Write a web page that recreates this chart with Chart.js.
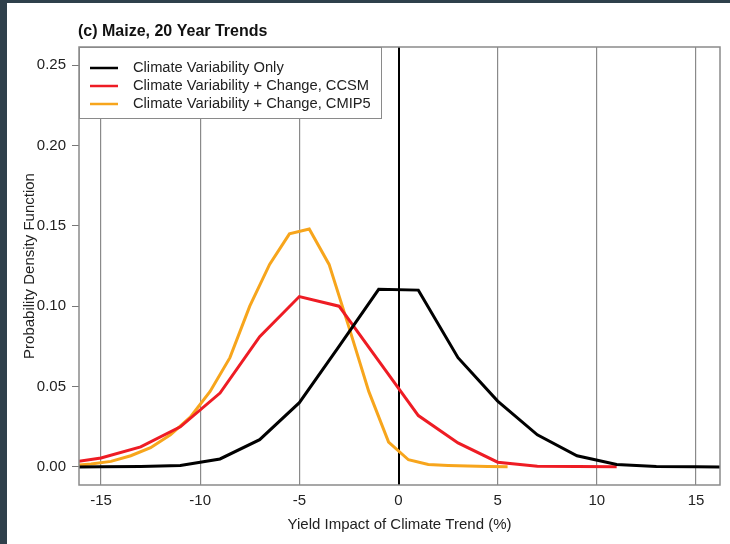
<!DOCTYPE html>
<html><head><meta charset="utf-8">
<script src="https://cdn.jsdelivr.net/npm/chart.js@4"></script>
<style>
html,body{margin:0;padding:0;background:#2f404b;width:730px;height:544px;overflow:hidden}
#wrap{position:absolute;left:7px;top:3px;width:723px;height:541px;background:#fff}
</style></head>
<body>
<div id="wrap"><canvas id="c" width="723" height="541"></canvas></div>
<script>
const blackX=[-17,-15,-13,-11,-9,-7,-5,-3,-1,1,3,5,7,9,11,13,15,17];
const blackY=[0,0.0001,0.0003,0.001,0.005,0.017,0.040,0.075,0.1105,0.110,0.068,0.041,0.020,0.007,0.0015,0.0003,0.0001,0];
const ccsmX=[-17,-15,-13,-11,-9,-7,-5,-3,-1,1,3,5,7,9,11];
const ccsmY=[0.002,0.0056,0.0125,0.025,0.046,0.081,0.106,0.100,0.066,0.032,0.015,0.003,0.0005,0.0003,0.0002];
const cmipX=[-16.5,-15.5,-14.5,-13.5,-12.5,-11.5,-10.5,-9.5,-8.5,-7.5,-6.5,-5.5,-4.5,-3.5,-2.5,-1.5,-0.5,0.5,1.5,2.5,3.5,4.5,5.5];
const cmipY=[0.0008,0.0018,0.0035,0.007,0.012,0.020,0.031,0.047,0.068,0.100,0.126,0.145,0.148,0.126,0.087,0.047,0.0155,0.0045,0.0015,0.001,0.0006,0.0003,0.0002];
const xTicks=[-15,-10,-5,0,5,10,15];
const yTicks=[0,0.05,0.10,0.15,0.20,0.25];
const labels=['Climate Variability Only','Climate Variability + Change, CCSM','Climate Variability + Change, CMIP5'];
const colors=['#000000','#ee1c24','#f7a51c'];

const FF='"Liberation Sans", Arial, sans-serif';
Chart.defaults.font.family=FF;
const pts=(xs,ys)=>xs.map((x,i)=>({x,y:ys[i]}));

// legend box, plot frame, title
const deco={id:'deco',
  beforeDatasetsDraw(c){
    const ctx=c.ctx;ctx.save();
    ctx.fillStyle='#fff';ctx.fillRect(72,44,302,71);
    ctx.strokeStyle='#8a8a8a';ctx.lineWidth=1;ctx.strokeRect(72.5,44.5,302,71);
    c.data.datasets.forEach((d,i)=>{
      const y=65+i*18;
      ctx.strokeStyle=d.borderColor;ctx.lineWidth=2.5;
      ctx.beginPath();ctx.moveTo(83,y);ctx.lineTo(111,y);ctx.stroke();
      ctx.fillStyle='#222';ctx.font='14.7px '+FF;ctx.textBaseline='middle';
      ctx.fillText(d.label,126,y);
    });
    ctx.restore();
  },
  afterDraw(c){
    const ctx=c.ctx,a=c.chartArea;ctx.save();
    ctx.strokeStyle='#8a8a8a';ctx.lineWidth=1.5;
    ctx.strokeRect(a.left,a.top,a.right-a.left,a.bottom-a.top);
    ctx.fillStyle='#111';ctx.font='bold 16px '+FF;ctx.textBaseline='middle';
    ctx.fillText('(c) Maize, 20 Year Trends',71,29);
    ctx.restore();
  }
};

new Chart(document.getElementById('c'),{type:'line',
  data:{datasets:[
    {label:labels[0],data:pts(blackX,blackY),borderColor:colors[0]},
    {label:labels[1],data:pts(ccsmX,ccsmY),borderColor:colors[1]},
    {label:labels[2],data:pts(cmipX,cmipY),borderColor:colors[2]},
  ]},
  options:{responsive:false,animation:false,devicePixelRatio:1,
    layout:{padding:{top:44,right:10,left:0,bottom:0}},
    elements:{line:{borderWidth:3,tension:0,fill:false},point:{radius:0}},
    plugins:{legend:{display:false},tooltip:{enabled:false}},
    scales:{
      x:{type:'linear',min:-16.11,max:16.21,
        afterBuildTicks:s=>{s.ticks=xTicks.map(v=>({value:v}))},
        afterFit:s=>{s.height=59},
        border:{display:false},
        grid:{drawTicks:false,color:ctx=>ctx.tick&&ctx.tick.value===0?'#000':'#8a8a8a',lineWidth:ctx=>ctx.tick&&ctx.tick.value===0?2:1.2},
        ticks:{padding:7,color:'#222',font:{size:15}},
        title:{display:true,text:'Yield Impact of Climate Trend (%)',color:'#222',font:{size:15},padding:{top:0,bottom:10}}},
      y:{type:'linear',min:-0.0112,max:0.2612,
        afterBuildTicks:s=>{s.ticks=yTicks.map(v=>({value:v}))},
        afterFit:s=>{s.width=72},
        border:{display:false},
        grid:{drawOnChartArea:false,drawTicks:true,tickLength:7,color:'#777'},
        ticks:{padding:6,color:'#222',font:{size:15},callback:v=>v.toFixed(2)},
        title:{display:true,text:'Probability Density Function',color:'#222',font:{size:15},padding:{top:14,bottom:0}}}
    }},
  plugins:[deco]
});
</script>
</body></html>
